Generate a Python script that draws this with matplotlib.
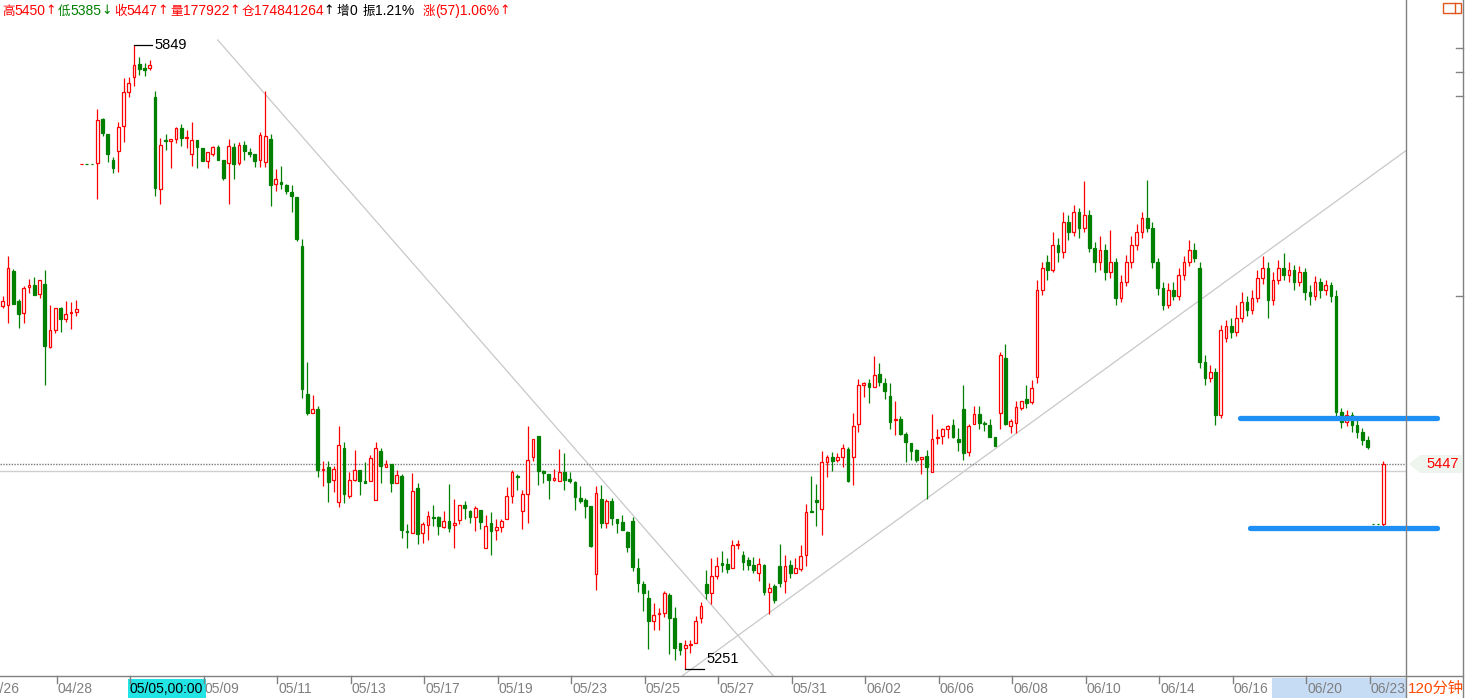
"""Candlestick chart (120-minute bars) redrawn from a trading-terminal screenshot."""

import matplotlib

matplotlib.use("Agg")
import matplotlib.pyplot as plt
from matplotlib.lines import Line2D
from matplotlib.patches import Polygon, Rectangle
from matplotlib.transforms import blended_transform_factory

# ---------------------------------------------------------------- data
opens = [
    5599, 5600, 5632, 5604, 5592, 5617, 5619, 5610, 5620, 5560,
    5576, 5597, 5586, 5592, 5593, 5735, 5735, 5735, 5736, 5778,
    5764, 5739, 5747, 5771, 5804, 5818, 5831, 5827, 5827, 5799,
    5711, 5758, 5757, 5759, 5769, 5760, 5745, 5758, 5750, 5738,
    5745, 5751, 5739, 5736, 5751, 5736, 5753, 5746, 5745, 5739,
    5737, 5759, 5716, 5718, 5715, 5708, 5703, 5656, 5515, 5496,
    5500, 5442, 5445, 5432, 5411, 5463, 5417, 5432, 5442, 5431,
    5431, 5413, 5460, 5445, 5447, 5429, 5436, 5383, 5381, 5424,
    5381, 5389, 5397, 5397, 5387, 5393, 5389, 5394, 5408, 5402,
    5397, 5403, 5367, 5391, 5384, 5387, 5395, 5417, 5436, 5402,
    5419, 5454, 5474, 5441, 5438, 5432, 5431, 5440, 5433, 5430,
    5415, 5413, 5407, 5342, 5414, 5391, 5412, 5395, 5392, 5382,
    5393, 5348, 5332, 5319, 5297, 5304, 5305, 5322, 5300, 5276,
    5271, 5274, 5276, 5300, 5332, 5324, 5340, 5353, 5352, 5348,
    5370, 5360, 5355, 5351, 5343, 5351, 5325, 5331, 5350, 5335,
    5351, 5343, 5347, 5360, 5402, 5413, 5404, 5449, 5454, 5451,
    5454, 5462, 5454, 5486, 5523, 5525, 5521, 5534, 5525, 5513,
    5490, 5491, 5476, 5468, 5461, 5452, 5455, 5440, 5472, 5474,
    5481, 5485, 5471, 5500, 5459, 5486, 5495, 5487, 5485, 5473,
    5496, 5549, 5484, 5487, 5501, 5510, 5507, 5531, 5614, 5641,
    5633, 5657, 5651, 5679, 5670, 5689, 5674, 5686, 5654, 5641,
    5653, 5631, 5641, 5607, 5622, 5641, 5657, 5670, 5683, 5674,
    5641, 5616, 5600, 5614, 5608, 5629, 5641, 5653, 5635, 5545,
    5530, 5536, 5494, 5568, 5580, 5574, 5587, 5603, 5595, 5607,
    5626, 5635, 5605, 5624, 5635, 5629, 5633, 5622, 5631, 5612,
    5608, 5622, 5614, 5619, 5608, 5497, 5488, 5494, 5485, 5478,
    5470, 5390, 5390, 5390,
]
highs = [
    5608, 5647, 5634, 5606, 5618, 5625, 5627, 5624, 5633, 5600,
    5597, 5598, 5604, 5603, 5605, 5735, 5735, 5735, 5788, 5779,
    5764, 5742, 5775, 5817, 5818, 5849, 5837, 5832, 5835, 5805,
    5760, 5764, 5759, 5770, 5773, 5768, 5775, 5758, 5750, 5746,
    5752, 5753, 5739, 5759, 5755, 5756, 5757, 5750, 5745, 5766,
    5805, 5764, 5730, 5733, 5716, 5715, 5703, 5663, 5545, 5514,
    5503, 5450, 5450, 5446, 5484, 5469, 5440, 5461, 5442, 5449,
    5456, 5469, 5463, 5451, 5447, 5442, 5438, 5390, 5439, 5429,
    5392, 5402, 5408, 5398, 5402, 5428, 5414, 5408, 5412, 5403,
    5407, 5403, 5399, 5401, 5395, 5395, 5425, 5442, 5438, 5423,
    5484, 5471, 5474, 5442, 5438, 5443, 5462, 5458, 5440, 5431,
    5426, 5415, 5407, 5426, 5427, 5414, 5415, 5395, 5399, 5383,
    5397, 5357, 5335, 5327, 5314, 5309, 5326, 5324, 5310, 5276,
    5279, 5279, 5302, 5315, 5346, 5357, 5358, 5364, 5357, 5375,
    5375, 5364, 5358, 5358, 5357, 5352, 5333, 5332, 5371, 5360,
    5355, 5357, 5370, 5409, 5436, 5428, 5460, 5456, 5459, 5458,
    5467, 5464, 5496, 5529, 5526, 5529, 5551, 5544, 5530, 5525,
    5508, 5493, 5478, 5468, 5462, 5454, 5461, 5495, 5481, 5482,
    5485, 5491, 5482, 5523, 5486, 5503, 5503, 5489, 5491, 5473,
    5555, 5562, 5491, 5508, 5508, 5523, 5528, 5624, 5641, 5648,
    5670, 5664, 5689, 5686, 5696, 5693, 5719, 5691, 5660, 5666,
    5658, 5672, 5645, 5629, 5648, 5666, 5677, 5689, 5720, 5679,
    5645, 5622, 5621, 5622, 5635, 5647, 5662, 5659, 5641, 5552,
    5542, 5539, 5581, 5585, 5587, 5600, 5612, 5608, 5614, 5633,
    5647, 5641, 5631, 5643, 5650, 5641, 5638, 5637, 5635, 5619,
    5628, 5626, 5624, 5622, 5614, 5501, 5499, 5497, 5490, 5482,
    5474, 5390, 5390, 5450,
]
lows = [
    5597, 5583, 5601, 5578, 5583, 5611, 5609, 5607, 5523, 5559,
    5573, 5574, 5584, 5577, 5589, 5735, 5735, 5735, 5701, 5762,
    5737, 5726, 5727, 5756, 5799, 5810, 5820, 5819, 5825, 5704,
    5697, 5748, 5731, 5755, 5752, 5750, 5733, 5731, 5738, 5731,
    5743, 5739, 5720, 5697, 5721, 5734, 5739, 5742, 5732, 5732,
    5732, 5695, 5709, 5711, 5706, 5689, 5661, 5511, 5494, 5496,
    5435, 5426, 5411, 5421, 5406, 5410, 5415, 5431, 5418, 5429,
    5431, 5413, 5429, 5445, 5421, 5429, 5377, 5367, 5381, 5371,
    5372, 5375, 5388, 5379, 5386, 5382, 5367, 5390, 5395, 5391,
    5383, 5385, 5367, 5360, 5375, 5382, 5395, 5410, 5423, 5385,
    5391, 5450, 5427, 5429, 5414, 5431, 5431, 5423, 5429, 5403,
    5410, 5396, 5368, 5327, 5386, 5386, 5389, 5381, 5384, 5363,
    5345, 5325, 5307, 5270, 5288, 5288, 5301, 5265, 5260, 5264,
    5251, 5266, 5276, 5295, 5318, 5313, 5337, 5344, 5343, 5348,
    5366, 5346, 5346, 5343, 5335, 5322, 5304, 5314, 5330, 5324,
    5338, 5343, 5345, 5350, 5401, 5388, 5379, 5435, 5441, 5449,
    5445, 5430, 5427, 5478, 5512, 5506, 5521, 5522, 5510, 5481,
    5475, 5475, 5449, 5451, 5449, 5438, 5414, 5440, 5467, 5467,
    5472, 5472, 5460, 5451, 5455, 5486, 5481, 5479, 5473, 5465,
    5481, 5485, 5477, 5477, 5499, 5501, 5505, 5525, 5609, 5624,
    5631, 5641, 5645, 5662, 5666, 5664, 5670, 5651, 5631, 5633,
    5624, 5626, 5600, 5603, 5618, 5635, 5653, 5664, 5670, 5635,
    5609, 5595, 5597, 5605, 5605, 5624, 5637, 5641, 5539, 5523,
    5526, 5485, 5492, 5564, 5568, 5570, 5584, 5589, 5591, 5603,
    5620, 5587, 5600, 5620, 5624, 5622, 5614, 5618, 5605, 5600,
    5605, 5607, 5609, 5603, 5493, 5482, 5484, 5478, 5472, 5466,
    5462, 5390, 5390, 5385,
]
closes = [
    5604, 5635, 5601, 5591, 5616, 5619, 5609, 5624, 5561, 5576,
    5597, 5586, 5591, 5593, 5596, 5735, 5735, 5735, 5777, 5765,
    5745, 5731, 5770, 5804, 5813, 5830, 5826, 5825, 5830, 5712,
    5753, 5757, 5759, 5769, 5760, 5761, 5758, 5751, 5738, 5746,
    5751, 5739, 5722, 5752, 5735, 5753, 5747, 5745, 5738, 5763,
    5762, 5715, 5721, 5716, 5709, 5704, 5663, 5519, 5496, 5500,
    5442, 5443, 5430, 5443, 5466, 5419, 5432, 5442, 5431, 5429,
    5453, 5463, 5446, 5447, 5429, 5437, 5384, 5382, 5422, 5380,
    5390, 5398, 5396, 5388, 5393, 5386, 5391, 5408, 5405, 5397,
    5405, 5392, 5388, 5383, 5387, 5393, 5417, 5440, 5435, 5419,
    5451, 5471, 5441, 5439, 5432, 5434, 5440, 5432, 5431, 5416,
    5412, 5407, 5369, 5420, 5391, 5412, 5396, 5391, 5384, 5368,
    5349, 5333, 5324, 5297, 5303, 5305, 5324, 5300, 5271, 5269,
    5274, 5275, 5297, 5311, 5324, 5340, 5350, 5351, 5347, 5370,
    5371, 5354, 5351, 5346, 5352, 5325, 5329, 5317, 5333, 5350,
    5343, 5348, 5359, 5401, 5401, 5411, 5449, 5454, 5450, 5454,
    5463, 5431, 5484, 5523, 5525, 5521, 5533, 5526, 5517, 5488,
    5491, 5476, 5469, 5460, 5451, 5454, 5445, 5471, 5473, 5481,
    5484, 5473, 5469, 5458, 5484, 5495, 5487, 5486, 5473, 5465,
    5552, 5486, 5489, 5502, 5508, 5506, 5520, 5614, 5635, 5633,
    5657, 5651, 5679, 5670, 5689, 5674, 5686, 5654, 5641, 5653,
    5631, 5641, 5607, 5622, 5641, 5657, 5670, 5683, 5674, 5641,
    5616, 5600, 5614, 5608, 5629, 5641, 5653, 5645, 5545, 5530,
    5536, 5494, 5576, 5580, 5574, 5587, 5603, 5595, 5607, 5626,
    5635, 5605, 5624, 5635, 5629, 5633, 5622, 5631, 5612, 5608,
    5622, 5614, 5619, 5608, 5497, 5488, 5494, 5485, 5478, 5470,
    5464, 5390, 5390, 5447,
]
assert len(opens) == len(highs) == len(lows) == len(closes)

date_labels = ["04/26", "04/28", "05/05", "05/09", "05/11", "05/13", "05/17",
               "05/19", "05/23", "05/25", "05/27", "05/31", "06/02", "06/06",
               "06/08", "06/10", "06/14", "06/16", "06/20", "06/23"]
cursor_label = "05/05,00:00"

last_price = 5447
ref_line = 5441            # faint solid line just under the last price
high_mark, low_mark = 5849, 5251
support_levels = [5492, 5386]

# trend lines as (bar index, price) end points
down_trend = [(40.95, 5853.8), (146.8, 5244.3)]
up_trend = [(129.4, 5244.3), (267.3, 5747.8)]

header = [
    [("高", "#ff0000"), ("5450", "#ff0000"), ("↑", "#ff0000")],
    [("低", "#008000"), ("5385", "#008000"), ("↓", "#008000")],
    [("收", "#ff0000"), ("5447", "#ff0000"), ("↑", "#ff0000")],
    [("量", "#ff0000"), ("177922", "#ff0000"), ("↑", "#ff0000")],
    [("仓", "#ff0000"), ("174841264", "#ff0000"), ("↑", "#000000")],
    [("增", "#000000"), ("0", "#000000")],
    [("振", "#000000"), ("1.21%", "#000000")],
    [("涨", "#ff0000"), ("(57)1.06%", "#ff0000"), ("↑", "#ff0000")],
]
header_x = [0, 57, 113, 170, 240, 337, 363, 423]

# ---------------------------------------------------------------- style
RED = "#ff0000"
GREEN = "#008000"
FRAME = "#808080"
TREND = "#c8c8c8"
BLUE = "#1e8ff5"
NUM_FONT = ["Liberation Sans", "DejaVu Sans"]
CJK_FONT = ["Noto Sans CJK SC", "DejaVu Sans"]
ARROW_FONT = ["DejaVu Sans"]

W, H = 1466, 698
X0, X1 = -0.53, 267.3      # bar index range across the plot width
Y0, Y1 = 5244.3, 5892.1    # price range across the plot height


def fx(px):
    return px / W


def fy(py):
    return 1 - py / H


fig = plt.figure(figsize=(W / 100, H / 100), dpi=100)
fig.patch.set_facecolor("white")
ax = fig.add_axes([0, fy(676), fx(1406), 676 / H])
ax.set_xlim(X0, X1)
ax.set_ylim(Y0, Y1)
ax.axis("off")

# ---------------------------------------------------------------- candles
BW = 0.5
for i, (o, h, l, c) in enumerate(zip(opens, highs, lows, closes)):
    up = c > o or (c == o and i > 0 and c > closes[i - 1])
    col = RED if up else GREEN
    ax.vlines(i, l, h, color=col, lw=0.9, zorder=2)
    ax.add_patch(Rectangle((i - BW / 2, min(o, c)), BW, abs(c - o),
                           facecolor="white" if up else GREEN,
                           edgecolor=col, lw=0.9, zorder=3))

# trend lines and reference lines
for (xa, ya), (xb, yb) in (down_trend, up_trend):
    ax.plot([xa, xb], [ya, yb], color=TREND, lw=0.9, zorder=1)
ax.axhline(ref_line, color="#cfcfcf", lw=1.0, zorder=1)
ax.axhline(last_price, color="#7a7a7a", lw=1.0, ls=(0, (1, 1)), zorder=1)

for lvl, start in zip(support_levels, (235.7, 237.6)):
    ax.plot([start, 273.2], [lvl, lvl], color=BLUE, lw=3.8,
            solid_capstyle="round", clip_on=False, zorder=5)

# high / low markers
i_hi = highs.index(high_mark)
i_lo = lows.index(low_mark)
ax.plot([i_hi, i_hi + 3.4], [high_mark] * 2, color="black", lw=0.9, zorder=4)
ax.text(i_hi + 3.8, high_mark, str(high_mark), fontsize=10.5, family=NUM_FONT,
        va="center", ha="left", zorder=4)
ax.plot([i_lo, i_lo + 3.6], [low_mark] * 2, color="black", lw=0.9, zorder=4)
ax.text(i_lo + 4.0, low_mark + 2.5, str(low_mark), fontsize=10.5,
        family=NUM_FONT, va="bottom", ha="left", zorder=4)

# ---------------------------------------------------------------- frame
for xs, ys in (([fx(1406)] * 2, [0, 1]), ([fx(1463)] * 2, [0, 1]),
               ([0, fx(1463)], [fy(676)] * 2)):
    fig.add_artist(Line2D(xs, ys, color=FRAME, lw=1.0,
                          transform=fig.transFigure))
for ty in (48, 72, 96, 296):
    fig.add_artist(Line2D([fx(1456), fx(1463)], [fy(ty)] * 2, color=FRAME,
                          lw=1.0, transform=fig.transFigure))

# little window icon in the top right corner
fig.add_artist(Rectangle((fx(1443), fy(13)), fx(18), 10 / H, fill=False,
                         edgecolor="#e0561c", lw=1.0,
                         transform=fig.transFigure))
fig.add_artist(Line2D([fx(1455)] * 2, [fy(13), fy(3)], color="#e0561c",
                      lw=1.0, transform=fig.transFigure))

# last price tag on the right
fig.add_artist(Polygon([(fx(1409), fy(464)), (fx(1420), fy(455)),
                        (fx(1462), fy(455)), (fx(1462), fy(473)),
                        (fx(1420), fy(473))], closed=True,
                       facecolor="#eef5ee", edgecolor="none",
                       transform=fig.transFigure))
fig.text(fx(1459), fy(464), str(last_price), color=RED, fontsize=10.5,
         family=NUM_FONT, ha="right", va="center")

# ---------------------------------------------------------------- date axis
# selected range highlight and the cursor box sit under the labels
fig.add_artist(Rectangle((fx(1272), 0), fx(1406 - 1272), fy(678),
                         facecolor="#c6dbf4", edgecolor="none", zorder=-2,
                         transform=fig.transFigure))
fig.add_artist(Rectangle((fx(128), 0.0), fx(78), fy(679), facecolor="#22e4e4",
                         edgecolor="none", zorder=-2,
                         transform=fig.transFigure))

date_tf = blended_transform_factory(ax.transData, fig.transFigure)
first_tick, step = -3.7, 14
for k, lab in enumerate(date_labels):
    pos = first_tick + step * k
    if lab == "06/23":
        pos = 260.4          # pushed left to fit in the plot
    fig.add_artist(Line2D([pos, pos], [fy(676), fy(683)], color=FRAME,
                          lw=1.0, transform=date_tf))
    if cursor_label.startswith(lab):
        continue
    fig.text(0, fy(689), lab, transform=date_tf, color="#7f7f7f",
             fontsize=10, family=NUM_FONT, ha="left", va="center",
             zorder=5).set_x(pos + 0.15)

fig.text(fx(129), fy(689), cursor_label, color="black", fontsize=10,
         family=NUM_FONT, ha="left", va="center", zorder=5)

fig.text(fx(1408), fy(689), "120分钟", color="#ff4a00", fontsize=11,
         family=NUM_FONT[:1] + CJK_FONT, ha="left", va="center")

# ---------------------------------------------------------------- header
renderer = fig.canvas.get_renderer()
x = 0
for x_start, runs in zip(header_x, header):
    x = max(x_start, x + 2)
    for txt, col in runs:
        if txt in "↑↓":
            fam, size = ARROW_FONT, 9
        elif any(ch.isdigit() for ch in txt):
            fam, size = NUM_FONT, 10
        else:
            fam, size = CJK_FONT, 9
        t = fig.text(fx(x), fy(11), txt, color=col, va="center", ha="left",
                     fontsize=size, family=fam)
        x += t.get_window_extent(renderer).width

fig.savefig("out.png", dpi=100)
